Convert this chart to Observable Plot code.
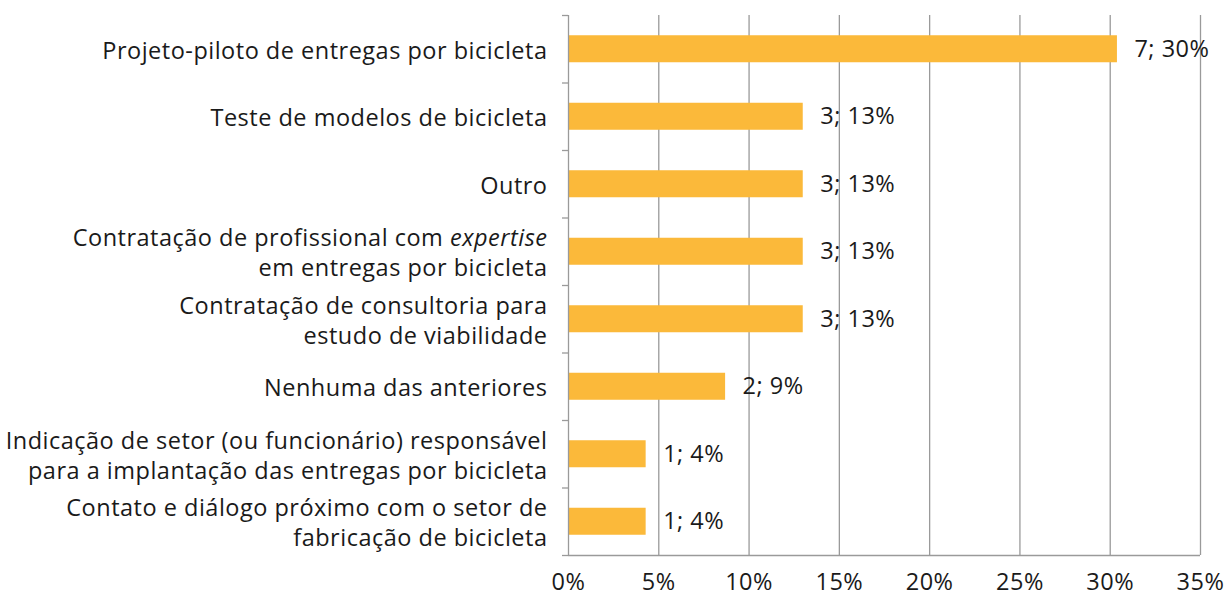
<!DOCTYPE html>
<html>
<head>
<meta charset="utf-8">
<script src="https://cdn.jsdelivr.net/npm/d3@7"></script>
<script src="https://cdn.jsdelivr.net/npm/@observablehq/plot@0.6"></script>
<style>
  html, body { margin: 0; padding: 0; background: #fff; }
  svg { display: block; }
  svg text { letter-spacing: 0.5px; }
</style>
</head>
<body>
<div id="chart"></div>
<script>
const categories = [
  "Projeto-piloto de entregas por bicicleta",
  "Teste de modelos de bicicleta",
  "Outro",
  "Contratação de profissional com expertise\nem entregas por bicicleta",
  "Contratação de consultoria para\nestudo de viabilidade",
  "Nenhuma das anteriores",
  "Indicação de setor (ou funcionário) responsável\npara a implantação das entregas por bicicleta",
  "Contato e diálogo próximo com o setor de\nfabricação de bicicleta"
];
const counts = [7, 3, 3, 3, 3, 2, 1, 1];
const values = [30.4, 13.0, 13.0, 13.0, 13.0, 8.7, 4.3, 4.3];
const labelPct = [30, 13, 13, 13, 13, 9, 4, 4];
const xTicks = [0, 5, 10, 15, 20, 25, 30, 35];

const data = categories.map((c, i) => ({i, cat: c, n: counts[i], v: values[i], p: labelPct[i]}));
const idx = data.map(d => d.i);
const bounds = [-0.5, ...idx.map(i => i + 0.5)];

const FONT = "'Open Sans', sans-serif";
const FS = 23.5;

const chart = Plot.plot({
  width: 1225,
  height: 596,
  marginLeft: 568,
  marginRight: 25,
  marginTop: 15,
  marginBottom: 41,
  style: {fontFamily: FONT, fontSize: FS + "px", color: "#1a1a1a", background: "#fff"},
  x: {domain: [0, 35]},
  y: {domain: [-0.5, 7.5], reverse: true},
  marks: [
    Plot.gridX(xTicks.slice(1), {stroke: "#9a9a9a", strokeOpacity: 1, strokeWidth: 1.3}),
    Plot.rectX(data, {x1: 0, x2: "v", y1: d => d.i - 0.2, y2: d => d.i + 0.2, fill: "#fbb93a"}),
    Plot.ruleX([0], {stroke: "#9a9a9a", strokeWidth: 1.3}),
    Plot.ruleY([7.5], {stroke: "#9a9a9a", strokeWidth: 1.3}),
    Plot.axisY(bounds, {tickSize: 6, tickFormat: () => "", stroke: "#9a9a9a", strokeWidth: 1.3, label: null}),
    Plot.axisY(idx, {tickSize: 0, tickPadding: 21, tickFormat: i => categories[i], fontSize: FS, lineHeight: 1.28, fill: "#1a1a1a", label: null}),
    Plot.axisX(xTicks, {tickSize: 0, tickPadding: 18, tickFormat: d => d + "%", fontSize: FS, fill: "#1a1a1a", label: null}),
    Plot.text(data, {x: "v", y: "i", text: d => `${d.n}; ${d.p}%`, textAnchor: "start", dx: 17, fontSize: FS, fill: "#1a1a1a"})
  ]
});

// italicize "expertise"
chart.querySelectorAll("tspan, text").forEach(el => {
  if (el.childElementCount === 0 && el.textContent === "Contratação de profissional com expertise") {
    el.textContent = "Contratação de profissional com ";
    const t = document.createElementNS("http://www.w3.org/2000/svg", "tspan");
    t.setAttribute("font-style", "italic");
    t.textContent = "expertise";
    el.appendChild(t);
  }
});

document.getElementById("chart").appendChild(chart);
</script>
</body>
</html>
